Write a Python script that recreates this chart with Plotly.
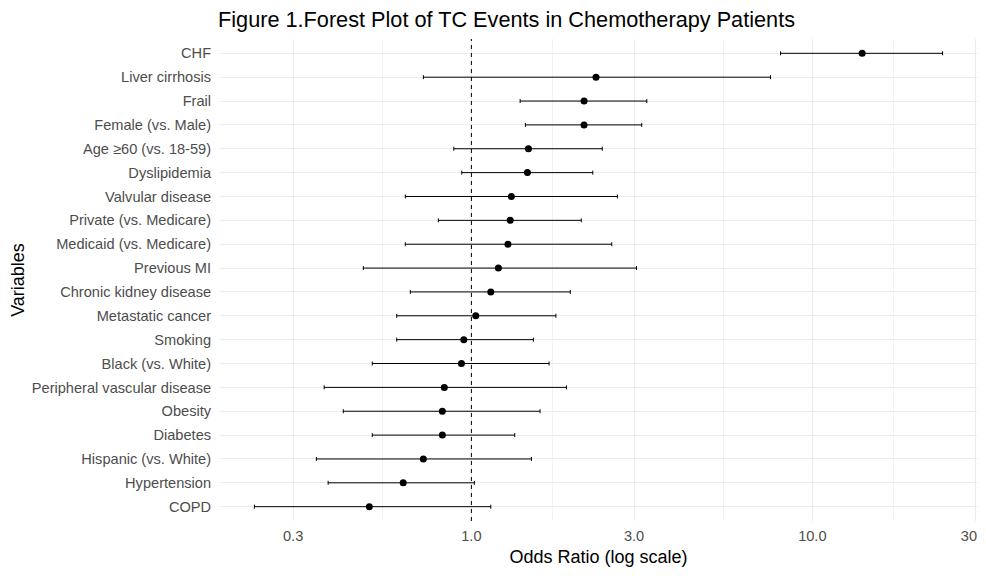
import plotly.graph_objects as go
import math

variables = ["CHF", "Liver cirrhosis", "Frail", "Female (vs. Male)", "Age ≥60 (vs. 18-59)",
             "Dyslipidemia", "Valvular disease", "Private (vs. Medicare)", "Medicaid (vs. Medicare)",
             "Previous MI", "Chronic kidney disease", "Metastatic cancer", "Smoking",
             "Black (vs. White)", "Peripheral vascular disease", "Obesity", "Diabetes",
             "Hispanic (vs. White)", "Hypertension", "COPD"]
odds_ratio = [14.0, 2.32, 2.14, 2.14, 1.47, 1.46, 1.31, 1.30, 1.28, 1.20,
              1.14, 1.03, 0.95, 0.935, 0.833, 0.822, 0.822, 0.723, 0.631, 0.502]
ci_lower = [8.07, 0.723, 1.39, 1.44, 0.888, 0.937, 0.640, 0.80, 0.640, 0.482,
            0.662, 0.604, 0.604, 0.512, 0.370, 0.421, 0.512, 0.351, 0.380, 0.231]
ci_upper = [24.1, 7.54, 3.27, 3.16, 2.42, 2.27, 2.68, 2.10, 2.58, 3.05,
            1.95, 1.77, 1.52, 1.69, 1.90, 1.59, 1.34, 1.50, 1.02, 1.14]

x_ticks = [0.3, 1.0, 3.0, 10.0, 30.0]
x_tick_labels = ["0.3", "1.0", "3.0", "10.0", "30.0"]
minor_ticks = [math.sqrt(a * b) for a, b in zip(x_ticks[:-1], x_ticks[1:])]

err_plus = [u - o for u, o in zip(ci_upper, odds_ratio)]
err_minus = [o - l for o, l in zip(odds_ratio, ci_lower)]

fig = go.Figure()
fig.add_trace(go.Scatter(
    x=odds_ratio, y=variables, mode="markers",
    marker=dict(color="black", size=7),
    error_x=dict(type="data", symmetric=False, array=err_plus, arrayminus=err_minus,
                 color="black", thickness=1, width=2),
    showlegend=False, hoverinfo="x+y",
))

lo = math.log10(min(ci_lower))
hi = math.log10(max(ci_upper))
pad = (hi - lo) * 0.05

fig.add_shape(type="line", xref="x", yref="paper", x0=1, x1=1, y0=0, y1=1,
              line=dict(color="black", width=1, dash="4px,4px"))

font_family = "Liberation Sans, Arial, sans-serif"
# page body has an 8px margin; figure sized to fill the rest of the window
W, H = 978, 568
fig.update_layout(
    width=W, height=H,
    margin=dict(l=212, r=9, t=31, b=55),
    paper_bgcolor="white", plot_bgcolor="white",
    font=dict(family=font_family),
    title=dict(text="Figure 1.Forest Plot of TC Events in Chemotherapy Patients",
               x=210 / W, xanchor="left", xref="container", y=1 - 11 / H, yanchor="middle",
               font=dict(size=21.7, color="black", family=font_family)),
    xaxis=dict(type="log", range=[lo - pad, hi + pad],
               tickvals=x_ticks, ticktext=x_tick_labels, ticklabeloverflow="allow",
               showgrid=True, gridcolor="#EBEBEB", gridwidth=1,
               minor=dict(tickvals=minor_ticks, showgrid=True, gridcolor="#F2F2F2", gridwidth=1),
               zeroline=False, showline=False, automargin=False,
               ticks="outside", ticklen=1, tickcolor="rgba(0,0,0,0)",
               tickfont=dict(size=14.6, color="#4D4D4D"),
               title=dict(text="Odds Ratio (log scale)", font=dict(size=18, color="black"), standoff=7)),
    yaxis=dict(type="category", categoryorder="array", categoryarray=variables[::-1],
               range=[-0.6, len(variables) - 0.4],
               showgrid=True, gridcolor="#EBEBEB", gridwidth=1,
               zeroline=False, showline=False, automargin=False,
               ticks="outside", ticklen=5, tickcolor="rgba(0,0,0,0)",
               tickfont=dict(size=14.6, color="#4D4D4D"),
               title=dict(text="Variables", font=dict(size=18, color="black"), standoff=8)),
)

fig.write_html("out.html")
